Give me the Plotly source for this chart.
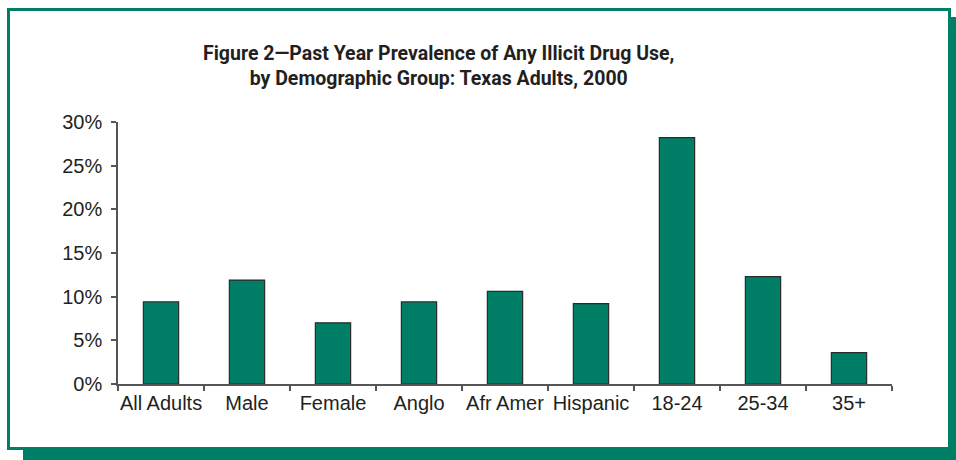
import plotly.graph_objects as go

categories = ["All Adults", "Male", "Female", "Anglo", "Afr Amer", "Hispanic", "18-24", "25-34", "35+"]
prevalence = [9.4, 11.9, 7.0, 9.4, 10.6, 9.2, 28.2, 12.3, 3.6]
y_ticks = [0, 5, 10, 15, 20, 25, 30]
y_tick_labels = ["0%", "5%", "10%", "15%", "20%", "25%", "30%"]
title_text = "Figure 2\u2014Past Year Prevalence of Any Illicit Drug Use,<br>by Demographic Group: Texas Adults, 2000"

W, H = 956, 460
L, R, T, B = 118, 64, 122, 76
pw, ph = W - L - R, H - T - B

def px(x):
    return (x - L) / pw

def py(y):
    return (H - B - y) / ph

teal = "#007f66"
text_col = "#231f20"

fig = go.Figure()
fig.add_trace(go.Bar(
    x=categories, y=prevalence,
    marker=dict(color=teal, line=dict(color="#2a2a2a", width=1.2)),
    width=0.41,
))

fig.update_layout(
    width=W, height=H,
    margin=dict(l=L, r=R, t=T, b=B, autoexpand=False),
    paper_bgcolor="white", plot_bgcolor="rgba(0,0,0,0)",
    showlegend=False,
    font=dict(family="Liberation Sans, Arial, sans-serif", size=20, color=text_col),
    xaxis=dict(
        type="category", showgrid=False, showline=True, linecolor="#555555", linewidth=1.5,
        ticks="outside", tickson="boundaries", ticklen=5, tickcolor="#555555", tickwidth=1.5,
        tickangle=0, automargin=False,
        tickfont=dict(size=20, color=text_col),
    ),
    yaxis=dict(
        range=[0, 30], showgrid=False, zeroline=False, showline=True, linecolor="#555555", linewidth=1.5,
        ticks="outside", ticklen=5, tickcolor="#555555", tickwidth=1.5, automargin=False,
        tickvals=y_ticks, ticktext=y_tick_labels, ticklabelstandoff=5,
        tickfont=dict(size=20, color=text_col),
    ),
    shapes=[
        dict(type="rect", xref="paper", yref="paper", layer="below",
             x0=px(23), x1=px(970), y0=py(17), y1=py(475),
             fillcolor=teal, line=dict(width=0)),
        dict(type="rect", xref="paper", yref="paper", layer="below",
             x0=px(8.5), x1=px(949.5), y0=py(9.5), y1=py(448.5),
             fillcolor="white", line=dict(color=teal, width=3)),
    ],
    annotations=[
        dict(text=title_text, xref="paper", yref="paper", x=px(438), y=py(66),
             xanchor="center", yanchor="middle", showarrow=False,
             font=dict(family="Roboto, Liberation Sans, sans-serif",
                       size=19.5, color=text_col, weight="bold")),
    ],
)

fig.write_html("out.html")
